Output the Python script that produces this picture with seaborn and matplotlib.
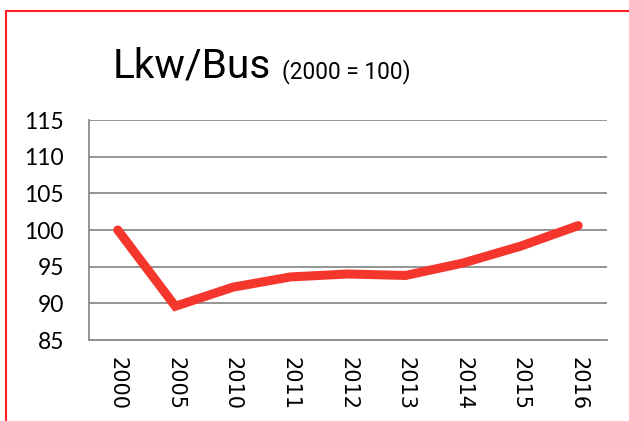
import matplotlib
matplotlib.use("Agg")
import matplotlib.pyplot as plt
import seaborn as sns
import pandas as pd
from matplotlib.lines import Line2D

years = ["2000", "2005", "2010", "2011", "2012", "2013", "2014", "2015", "2016"]
values = [100.0, 89.6, 92.2, 93.6, 94.0, 93.8, 95.5, 97.8, 100.6]
y_ticks = [85, 90, 95, 100, 105, 110, 115]

sns.set_theme(style="white")
df = pd.DataFrame({"Jahr": years, "Index": values})

fig = plt.figure(figsize=(6.29, 4.21), dpi=100)
ax = fig.add_axes([89/629, 1-340/421, (607-89)/629, (340-120)/421])

sns.lineplot(data=df, x="Jahr", y="Index", ax=ax, color="#F4362C", linewidth=6.5,
             solid_capstyle="round", solid_joinstyle="miter", sort=False)

ax.set_ylim(85, 115)
ax.set_xlim(-0.5, len(years) - 0.5)
ax.set_yticks(y_ticks)
ax.set_yticklabels([str(t) for t in y_ticks], fontsize=16.5, family="Lato", color="black")
ax.set_xticks(range(len(years)))
ax.set_xticklabels(years, rotation=270, fontsize=15, family="DejaVu Sans", color="black")
ax.tick_params(axis="y", length=0, pad=18)
ax.tick_params(axis="x", length=0, pad=12)
ax.set_xlabel("")
ax.set_ylabel("")
for y in y_ticks:
    ax.axhline(y, color="#8c8c8c", linewidth=1.3, zorder=0)
for s in ["top", "right"]:
    ax.spines[s].set_visible(False)
for s in ["left", "bottom"]:
    ax.spines[s].set_color("#8c8c8c")
    ax.spines[s].set_linewidth(1.3)

renderer = fig.canvas.get_renderer()

def fit_text(x_px, base_px, s, size, target_w):
    t = fig.text(x_px/629, 1-base_px/421, s, fontsize=size, family="Roboto",
                 ha="left", va="baseline", color="black")
    w = t.get_window_extent(renderer).width
    t.set_fontsize(size * target_w / w)
    return t

fit_text(113, 78, "Lkw/Bus", 30, 158)
fit_text(282, 78, "(2000 = 100)", 18, 128)

fig.add_artist(Line2D([6/629, 6/629], [0, 1-11/421], transform=fig.transFigure,
                      color="#FF2020", linewidth=1.5))
fig.add_artist(Line2D([6/629, 1], [1-11/421, 1-11/421], transform=fig.transFigure,
                      color="#FF2020", linewidth=1.5))

fig.savefig("out.png", dpi=100)
